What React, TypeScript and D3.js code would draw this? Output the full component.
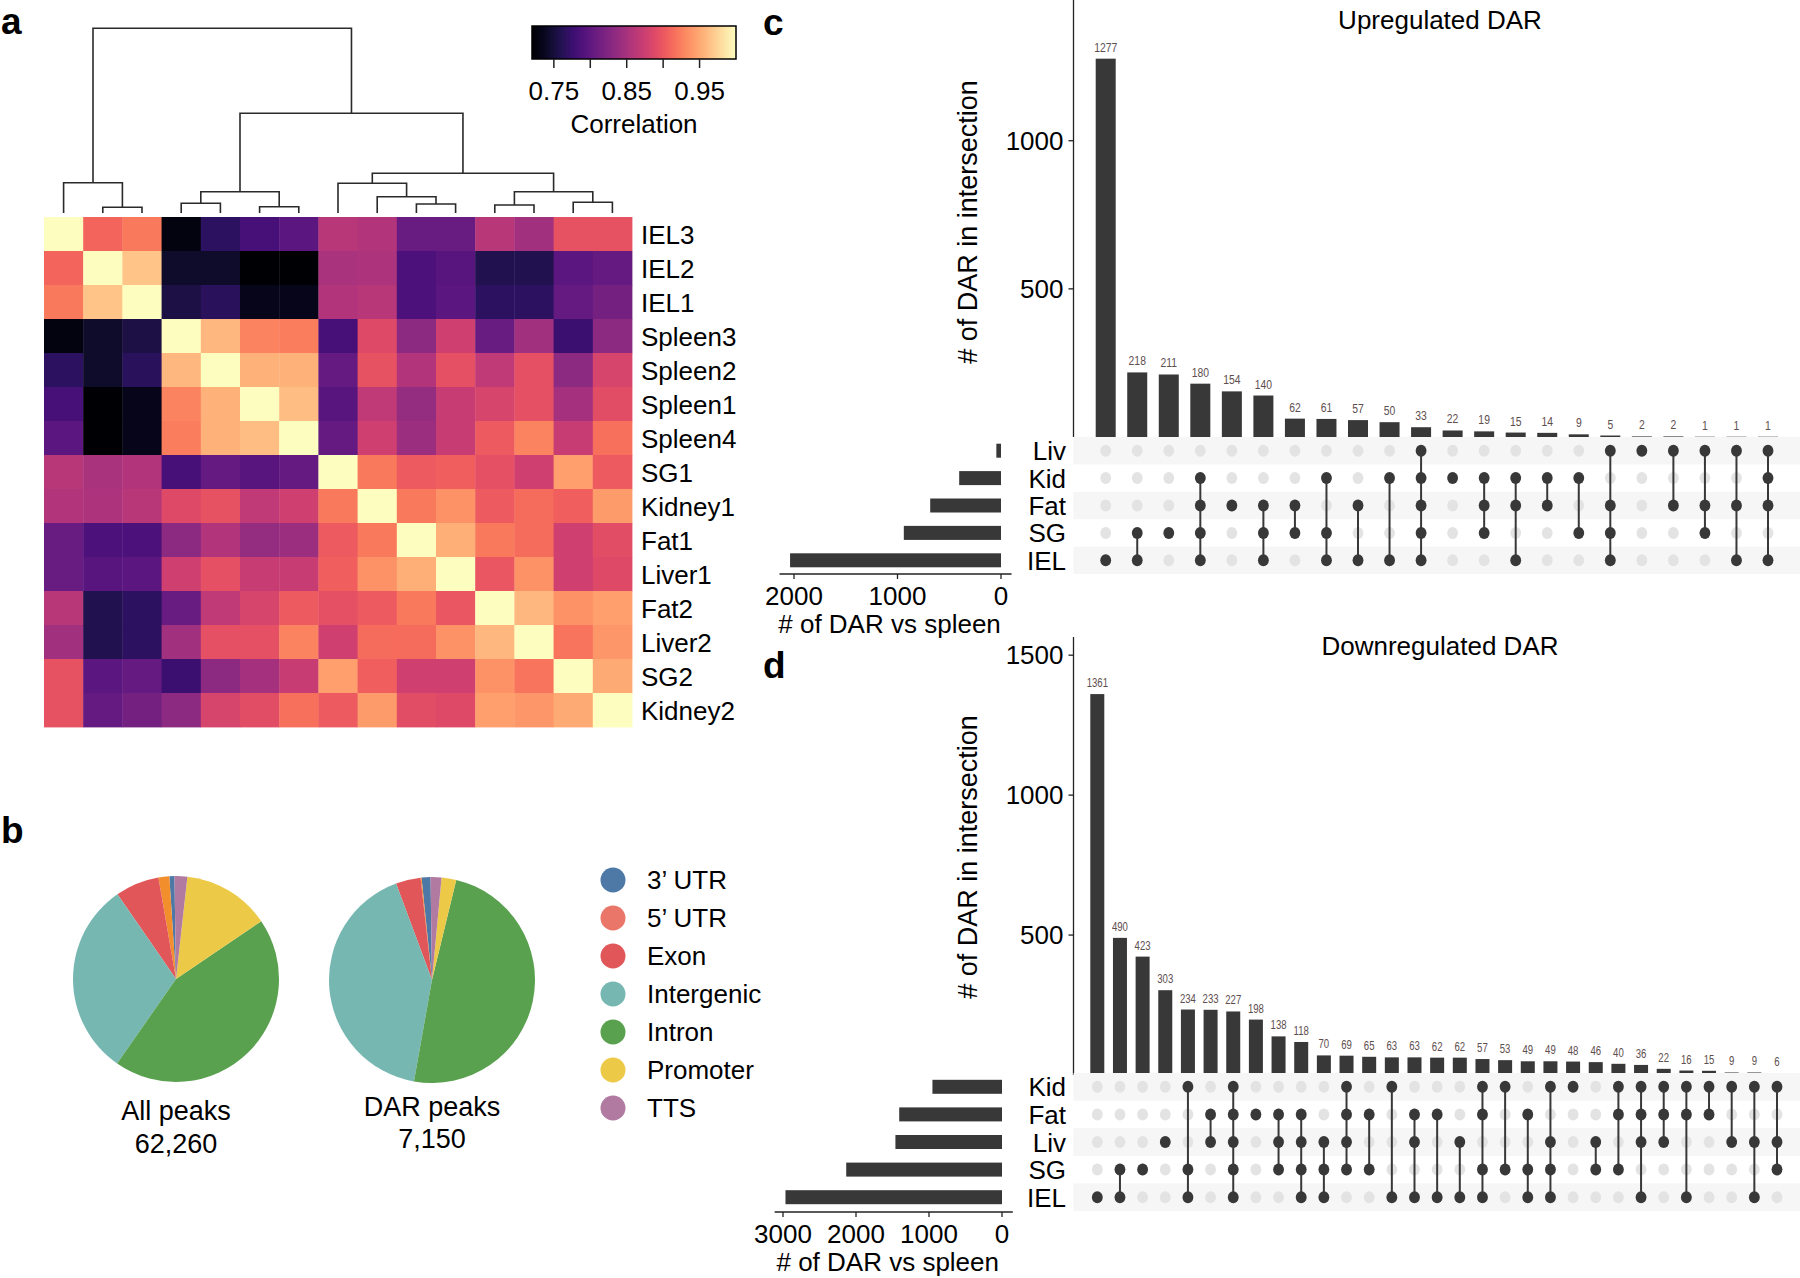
import React from 'react';
import * as d3 from 'd3';

const FONT = '"Liberation Sans", Arial, Helvetica, sans-serif';
const BAR = '#383838';
const GREY_DOT = '#e3e3e3';
const BAND = '#f6f6f6';
const NUM_COLOR = '#5e4e4e';

// ---------- Panel a ----------
const samples = ['IEL3', 'IEL2', 'IEL1', 'Spleen3', 'Spleen2', 'Spleen1', 'Spleen4', 'SG1', 'Kidney1', 'Fat1', 'Liver1', 'Fat2', 'Liver2', 'SG2', 'Kidney2'];
// upper triangle of the correlation matrix (row i, columns i..14)
const corrUpper: number[][] = [
  [1, 0.910, 0.922, 0.728, 0.768, 0.784, 0.798, 0.860, 0.857, 0.807, 0.807, 0.860, 0.846, 0.896, 0.896],
  [1, 0.966, 0.742, 0.742, 0.720, 0.720, 0.852, 0.854, 0.787, 0.796, 0.759, 0.759, 0.798, 0.804],
  [1, 0.754, 0.765, 0.734, 0.734, 0.857, 0.860, 0.787, 0.798, 0.768, 0.768, 0.804, 0.815],
  [1, 0.958, 0.927, 0.924, 0.784, 0.888, 0.832, 0.877, 0.807, 0.846, 0.776, 0.832],
  [1, 0.955, 0.955, 0.804, 0.896, 0.857, 0.894, 0.866, 0.894, 0.832, 0.882],
  [1, 0.961, 0.796, 0.866, 0.838, 0.871, 0.882, 0.894, 0.849, 0.891],
  [1, 0.804, 0.877, 0.843, 0.871, 0.902, 0.927, 0.871, 0.916],
  [1, 0.922, 0.902, 0.905, 0.894, 0.877, 0.944, 0.902],
  [1, 0.922, 0.936, 0.902, 0.913, 0.905, 0.941],
  [1, 0.952, 0.922, 0.913, 0.877, 0.891],
  [1, 0.899, 0.936, 0.877, 0.888],
  [1, 0.958, 0.936, 0.944],
  [1, 0.919, 0.938],
  [1, 0.950],
  [1],
];
const corrDomain: [number, number] = [0.72, 1.0];
const colorbarTicks = [0.75, 0.8, 0.85, 0.9, 0.95];
const colorbarLabels = [0.75, 0.85, 0.95];

type DNode = number | { h: number; c: [DNode, DNode] };
const dendro: DNode = {
  h: 184.7, c: [
    { h: 30.3, c: [0, { h: 5.7, c: [1, 2] }] },
    {
      h: 99.7, c: [
        { h: 21.3, c: [{ h: 9.7, c: [3, 4] }, { h: 6.3, c: [5, 6] }] },
        {
          h: 39.7, c: [
            { h: 29.7, c: [7, { h: 16.3, c: [8, { h: 9, c: [9, 10] }] }] },
            { h: 21.3, c: [{ h: 8, c: [11, 12] }, { h: 10.7, c: [13, 14] }] },
          ],
        },
      ],
    },
  ],
};

// ---------- Panel b ----------
const features = ['3\u2019 UTR', '5\u2019 UTR', 'Exon', 'Intergenic', 'Intron', 'Promoter', 'TTS'];
const allPeaksPct = [0.8, 1.7, 6.9, 30.7, 44.2, 13.75, 2.0];
const darPeaksPct = [1.4, 0.15, 3.9, 41.5, 49.0, 2.3, 1.7];
const pieColors = ['#4e79a7', '#f28e2b', '#e15759', '#76b7b2', '#59a14f', '#edc948', '#b07aa1'];
const legendColors = ['#4e79a7', '#ea7669', '#e15759', '#76b7b2', '#59a14f', '#edc948', '#b07aa1'];
const pieTitles = ['All peaks', 'DAR peaks'];
const pieTotals = ['62,260', '7,150'];

// ---------- Panel c ----------
const upSets = ['Liv', 'Kid', 'Fat', 'SG', 'IEL'];
const upCounts = [1277, 218, 211, 180, 154, 140, 62, 61, 57, 50, 33, 22, 19, 15, 14, 9, 5, 2, 2, 1, 1, 1];
const upMembers: string[][] = [
  ['IEL'], ['SG', 'IEL'], ['SG'], ['Kid', 'Fat', 'SG', 'IEL'], ['Fat'], ['Fat', 'SG', 'IEL'], ['Fat', 'SG'],
  ['Kid', 'SG', 'IEL'], ['Fat', 'IEL'], ['Kid', 'IEL'], ['Liv', 'Kid', 'Fat', 'SG', 'IEL'], ['Kid'],
  ['Kid', 'Fat', 'SG'], ['Kid', 'Fat', 'IEL'], ['Kid', 'Fat'], ['Kid', 'SG'], ['Liv', 'Fat', 'SG', 'IEL'],
  ['Liv'], ['Liv', 'Fat'], ['Liv', 'Fat', 'SG'], ['Liv', 'Fat', 'IEL'], ['Liv', 'Kid', 'Fat', 'IEL'],
];
const upTicks = [500, 1000];
const upSetTicks = [0, 1000, 2000];

// ---------- Panel d ----------
const downSets = ['Kid', 'Fat', 'Liv', 'SG', 'IEL'];
const downCounts = [1361, 490, 423, 303, 234, 233, 227, 198, 138, 118, 70, 69, 65, 63, 63, 62, 62, 57, 53, 49, 49, 48, 46, 40, 36, 22, 16, 15, 9, 9, 6];
const downMembers: string[][] = [
  ['IEL'], ['SG', 'IEL'], ['SG'], ['Liv'], ['Kid', 'SG', 'IEL'], ['Fat', 'Liv'], ['Kid', 'Fat', 'Liv', 'SG', 'IEL'],
  ['Fat'], ['Fat', 'Liv', 'SG'], ['Fat', 'Liv', 'SG', 'IEL'], ['Liv', 'SG', 'IEL'], ['Kid', 'Fat', 'Liv', 'SG'],
  ['Fat', 'SG'], ['Kid', 'IEL'], ['Fat', 'Liv', 'IEL'], ['Fat', 'IEL'], ['Liv', 'IEL'], ['Kid', 'Fat', 'SG', 'IEL'],
  ['Kid', 'SG'], ['Fat', 'SG', 'IEL'], ['Kid', 'Liv', 'SG', 'IEL'], ['Kid'], ['Liv', 'SG'], ['Kid', 'Fat', 'SG'],
  ['Kid', 'Fat', 'Liv', 'IEL'], ['Kid', 'Fat', 'Liv'], ['Kid', 'Fat', 'IEL'], ['Kid', 'Fat'], ['Kid', 'Liv'],
  ['Kid', 'Liv', 'IEL'], ['Kid', 'Liv', 'SG'],
];
const downTicks = [500, 1000, 1500];
const downSetTicks = [0, 1000, 2000, 3000];

type UpSetProps = {
  title: string;
  sets: string[];
  counts: number[];
  members: string[][];
  ticks: number[];
  setTicks: number[];
  yMax: number;
  base: number;
  top: number;
  colRange: [number, number];
  barW: number;
  rowsTop: number;
  rowH: number;
  setScale: { domain: [number, number]; range: [number, number] };
  setAxisY: number;
  titleY: number;
  yLabelY: number;
  numSize: number;
};

function UpSet(p: UpSetProps) {
  const axisX = 1073.5;
  const xCol = d3.scalePoint<number>().domain(p.counts.map((_, i) => i)).range(p.colRange);
  const yBar = d3.scaleLinear().domain([0, p.yMax]).range([p.base, p.top]);
  const rowY = (k: number) => p.rowsTop + p.rowH * (k + 0.5);
  const setSizes = p.sets.map((s) => d3.sum(p.counts.filter((_, i) => p.members[i].includes(s))));
  const xSet = d3.scaleLinear().domain(p.setScale.domain).range(p.setScale.range);
  const sMax = d3.max(setSizes) as number;
  const axL = xSet(sMax * 1.05);
  const axR = xSet(-sMax * 0.05);
  return (
    <g>
      {/* title */}
      <text x={1440} y={p.titleY} textAnchor="middle" fontSize={26}>{p.title}</text>
      {/* y axis */}
      <line x1={axisX} x2={axisX} y1={p.top} y2={p.base} stroke="#222" strokeWidth={1.3} />
      {p.ticks.map((t) => (
        <g key={t}>
          <line x1={axisX - 5} x2={axisX} y1={yBar(t)} y2={yBar(t)} stroke="#222" strokeWidth={1.3} />
          <text x={axisX - 10} y={yBar(t) + 9} textAnchor="end" fontSize={26}>{t}</text>
        </g>
      ))}
      <text transform={`translate(977,${p.yLabelY}) rotate(-90)`} textAnchor="middle" fontSize={27}>
        # of DAR in intersection
      </text>
      {/* bars */}
      {p.counts.map((v, i) => (
        <g key={i}>
          <rect x={(xCol(i) as number) - p.barW / 2} y={yBar(v)} width={p.barW} height={p.base - yBar(v)} fill={BAR} />
          <text
            transform={`translate(${xCol(i)},${yBar(v) - 7}) scale(0.8,1)`}
            textAnchor="middle"
            fontSize={p.numSize}
            fill={NUM_COLOR}
          >
            {v}
          </text>
        </g>
      ))}
      {/* matrix bands */}
      {p.sets.map((s, k) =>
        k % 2 === 0 ? (
          <rect key={s} x={axisX} y={p.rowsTop + p.rowH * k} width={1800 - axisX} height={p.rowH} fill={BAND} />
        ) : null
      )}
      {/* grey dots */}
      {p.counts.map((_, i) =>
        p.sets.map((s, k) => (
          <ellipse key={`g${i}-${k}`} cx={xCol(i)} cy={rowY(k)} rx={5.4} ry={6} fill={GREY_DOT} />
        ))
      )}
      {/* connecting lines */}
      {p.members.map((m, i) => {
        const idx = m.map((s) => p.sets.indexOf(s));
        const a = d3.min(idx) as number;
        const b = d3.max(idx) as number;
        return a === b ? null : (
          <line key={`l${i}`} x1={xCol(i)} x2={xCol(i)} y1={rowY(a)} y2={rowY(b)} stroke={BAR} strokeWidth={2} />
        );
      })}
      {/* dark dots */}
      {p.members.map((m, i) =>
        m.map((s) => (
          <ellipse key={`d${i}-${s}`} cx={xCol(i)} cy={rowY(p.sets.indexOf(s))} rx={5.4} ry={6} fill={BAR} />
        ))
      )}
      {/* set labels */}
      {p.sets.map((s, k) => (
        <text key={`t${s}`} x={1066} y={rowY(k) + 9.5} textAnchor="end" fontSize={26}>{s}</text>
      ))}
      {/* set size bars */}
      {p.sets.map((s, k) => (
        <rect key={`s${s}`} x={xSet(setSizes[k])} y={rowY(k) - 7} width={xSet(0) - xSet(setSizes[k])} height={14} fill={BAR} />
      ))}
      <line x1={axL} x2={axR} y1={p.setAxisY} y2={p.setAxisY} stroke="#222" strokeWidth={1.3} />
      {p.setTicks.map((t) => (
        <g key={`st${t}`}>
          <line x1={xSet(t)} x2={xSet(t)} y1={p.setAxisY} y2={p.setAxisY + 5} stroke="#222" strokeWidth={1.3} />
          <text x={xSet(t)} y={p.setAxisY + 31} textAnchor="middle" fontSize={26}>{t}</text>
        </g>
      ))}
      <text x={(axL + axR) / 2 - 6} y={p.setAxisY + 59} textAnchor="middle" fontSize={26}># of DAR vs spleen</text>
    </g>
  );
}

export default function App() {
  // ---- heatmap ----
  const xH = d3.scaleBand<string>().domain(samples).range([44, 632]);
  const yH = d3.scaleBand<string>().domain(samples).range([217, 727]);
  const color = d3.scaleSequential(d3.interpolateMagma).domain(corrDomain);
  const corr = samples.map((_, i) => samples.map((_, j) => (i <= j ? corrUpper[i][j - i] : corrUpper[j][i - j])));

  const dy = d3.scaleLinear().domain([0, 184.7]).range([213, 28.3]);
  const dPaths: string[] = [];
  const walk = (n: DNode): { x: number; y: number } => {
    if (typeof n === 'number') return { x: (xH(samples[n]) as number) + xH.bandwidth() / 2, y: dy(0) };
    const a = walk(n.c[0]);
    const b = walk(n.c[1]);
    const y = dy(n.h);
    dPaths.push(`M${a.x},${a.y}V${y}H${b.x}V${b.y}`);
    return { x: (a.x + b.x) / 2, y };
  };
  walk(dendro);

  const cb = d3.scaleLinear().domain(corrDomain).range([532, 736]);
  const gradStops = d3.range(0, 1.0001, 0.05);

  // ---- pies ----
  const arc = d3.arc<d3.PieArcDatum<number>>().innerRadius(0).outerRadius(103);
  const pies = [
    { data: allPeaksPct, cx: 176, cy: 979, start: -0.0148 },
    { data: darPeaksPct, cx: 432, cy: 980, start: -0.014 },
  ];

  return (
    <svg
      width={1800}
      height={1278}
      style={{ position: 'absolute', left: 0, top: 0, background: '#fff' }}
      fontFamily={FONT}
    >
      <rect x={0} y={0} width={1800} height={1278} fill="#fff" />
      <defs>
        <linearGradient id="magma" x1="0" x2="1" y1="0" y2="0">
          {gradStops.map((t) => (
            <stop key={t} offset={t} stopColor={d3.interpolateMagma(t)} />
          ))}
        </linearGradient>
      </defs>

      {/* panel letters */}
      <text x={1} y={34} fontSize={37} fontWeight="bold">a</text>
      <text x={1} y={843} fontSize={37} fontWeight="bold">b</text>
      <text x={763} y={35} fontSize={37} fontWeight="bold">c</text>
      <text x={763} y={678} fontSize={37} fontWeight="bold">d</text>

      {/* dendrogram */}
      {dPaths.map((d, i) => (
        <path key={i} d={d} fill="none" stroke="#2a2a2a" strokeWidth={1.6} />
      ))}

      {/* heatmap */}
      {corr.map((row, i) =>
        row.map((v, j) => (
          <rect
            key={`${i}-${j}`}
            x={xH(samples[j])}
            y={yH(samples[i])}
            width={xH.bandwidth() + 0.4}
            height={yH.bandwidth() + 0.4}
            fill={color(v)}
          />
        ))
      )}
      {samples.map((s) => (
        <text key={s} x={641} y={(yH(s) as number) + yH.bandwidth() / 2 + 9.5} fontSize={26}>{s}</text>
      ))}

      {/* colorbar */}
      <rect x={cb(corrDomain[0])} y={26} width={cb(corrDomain[1]) - cb(corrDomain[0])} height={33} fill="url(#magma)" stroke="#000" strokeWidth={1.5} />
      {colorbarTicks.map((t) => (
        <line key={t} x1={cb(t)} x2={cb(t)} y1={59} y2={68} stroke="#222" strokeWidth={1.5} />
      ))}
      {colorbarLabels.map((t) => (
        <text key={t} x={cb(t)} y={100} textAnchor="middle" fontSize={26}>{t.toFixed(2)}</text>
      ))}
      <text x={634} y={133} textAnchor="middle" fontSize={26}>Correlation</text>

      {/* pies */}
      {pies.map((p, k) => {
        const arcs = d3.pie<number>().sort(null).value((d) => d).startAngle(p.start).endAngle(p.start - 2 * Math.PI)(p.data);
        return (
          <g key={k} transform={`translate(${p.cx},${p.cy})`}>
            {arcs.map((a, i) => (
              <path key={i} d={arc(a) as string} fill={pieColors[i]} />
            ))}
            <text x={0} y={141 - (k === 1 ? 5 : 0)} textAnchor="middle" fontSize={27}>{pieTitles[k]}</text>
            <text x={0} y={174 - (k === 1 ? 6 : 0)} textAnchor="middle" fontSize={27}>{pieTotals[k]}</text>
          </g>
        );
      })}
      {features.map((f, i) => (
        <g key={f}>
          <circle cx={613} cy={880 + 38 * i} r={12.5} fill={legendColors[i]} />
          <text x={647} y={880 + 38 * i + 9} fontSize={26}>{f}</text>
        </g>
      ))}

      <UpSet
        title="Upregulated DAR"
        sets={upSets}
        counts={upCounts}
        members={upMembers}
        ticks={upTicks}
        setTicks={upSetTicks}
        yMax={1475}
        base={437}
        top={0}
        colRange={[1105.7, 1768]}
        barW={20}
        rowsTop={437}
        rowH={27.4}
        setScale={{ domain: [0, 2000], range: [1001, 794] }}
        setAxisY={574}
        titleY={29}
        yLabelY={222}
        numSize={13}
      />
      <UpSet
        title="Downregulated DAR"
        sets={downSets}
        counts={downCounts}
        members={downMembers}
        ticks={downTicks}
        setTicks={downSetTicks}
        yMax={1565}
        base={1075}
        top={637}
        colRange={[1097.3, 1777]}
        barW={14}
        rowsTop={1073}
        rowH={27.6}
        setScale={{ domain: [0, 3000], range: [1002, 783] }}
        setAxisY={1212}
        titleY={655}
        yLabelY={857}
        numSize={12}
      />
    </svg>
  );
}
